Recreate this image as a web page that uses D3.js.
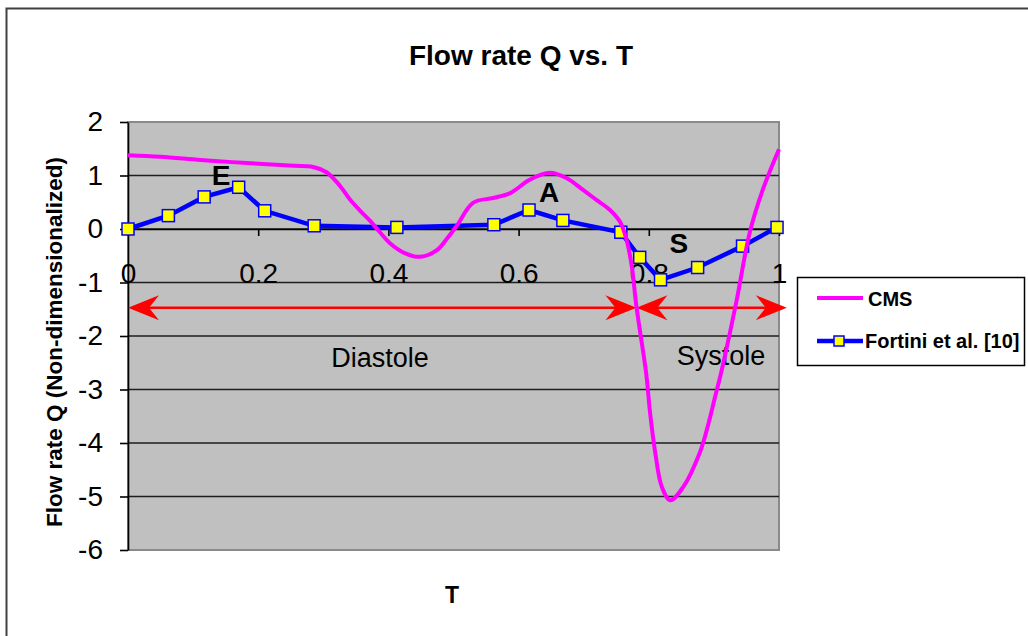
<!DOCTYPE html>
<html>
<head>
<meta charset="utf-8">
<title>Flow rate Q vs. T</title>
<script src="https://cdn.jsdelivr.net/npm/d3@7/dist/d3.min.js"></script>
<style>
    body { margin: 0; background: #fff; }
    svg text { font-family: "Liberation Sans", Arial, sans-serif; fill: #000; }
</style>
</head>
<body>
<script>
//CMS curve
var cmsT = [0, 0.05, 0.111, 0.16, 0.214, 0.255, 0.284, 0.305, 0.326, 0.341, 0.356, 0.372, 0.387, 0.402, 0.425, 0.449, 0.475, 0.49, 0.505, 0.53, 0.561, 0.587, 0.617, 0.648, 0.674, 0.699, 0.72, 0.74, 0.756, 0.766, 0.774, 0.781, 0.796, 0.802, 0.81, 0.82, 0.833, 0.853, 0.878, 0.889, 0.902, 0.912, 0.935, 0.955, 0.975, 1.0];
var cmsQ = [1.38, 1.35, 1.29, 1.25, 1.21, 1.18, 1.16, 1.06, 0.80, 0.55, 0.35, 0.15, -0.06, -0.26, -0.45, -0.52, -0.39, -0.18, 0.06, 0.49, 0.58, 0.67, 0.92, 1.05, 0.95, 0.73, 0.54, 0.36, 0.13, -0.21, -0.71, -1.45, -2.7, -3.44, -4.19, -4.82, -5.07, -4.82, -4.19, -3.76, -3.13, -2.64, -1.33, -0.07, 0.73, 1.49];

//Fortini et al. [10] points
var fortiniT = [0, 0.062, 0.117, 0.170, 0.210, 0.286, 0.413, 0.562, 0.616, 0.668, 0.757, 0.786, 0.818, 0.875, 0.944, 0.997];
var fortiniQ = [0, 0.25, 0.60, 0.78, 0.34, 0.06, 0.03, 0.08, 0.355, 0.16, -0.06, -0.53, -0.95, -0.72, -0.32, 0.03];

var seriesNames = ["CMS", "Fortini et al. [10]"];
var xTicks = [0, 0.2, 0.4, 0.6, 0.8, 1];
var yTicks = [-6, -5, -4, -3, -2, -1, 0, 1, 2];

//peak labels
var peakLabels = ["E", "A", "S"];
var peakT = [0.143, 0.647, 0.846];
var peakQ = [0.82, 0.51, -0.44];

//diastole / systole phases
var phaseLabels = ["Diastole", "Systole"];
var phaseStart = [0, 0.781];
var phaseEnd = [0.781, 1.012];
var phaseArrowQ = -1.47;
var phaseLabelT = [0.387, 0.911];
var phaseLabelQ = [-2.58, -2.54];

window.onload = drawChart();

function drawChart(){

    var width = 1028,
        height = 636;

    var svg = d3.select("body")
        .append("svg")
        .attr("width", width)
        .attr("height", height);

    //outer chart frame (runs off the right and bottom of the picture)
    svg.append("rect")
        .attr("x", 6.5)
        .attr("y", 8.5)
        .attr("width", 1100)
        .attr("height", 700)
        .attr("fill", "none")
        .attr("stroke", "#404040")
        .attr("stroke-width", 2);

    var x = d3.scaleLinear().domain([0, 1]).range([128, 779]);
    var y = d3.scaleLinear().domain([-6, 2]).range([550, 122]);

    //plain hyphen for negatives, like the original
    var numFormat = function(d){ return String(d); };

    //title
    svg.append("text")
        .attr("x", 521)
        .attr("y", 65)
        .attr("text-anchor", "middle")
        .style("font-size", "28px")
        .style("font-weight", "bold")
        .text("Flow rate Q vs. T");

    //plot area
    svg.append("rect")
        .attr("x", x(0))
        .attr("y", y(2))
        .attr("width", x(1) - x(0))
        .attr("height", y(-6) - y(2))
        .attr("fill", "#c0c0c0")
        .attr("stroke", "#8a8a8a")
        .attr("stroke-width", 2);

    //gridlines
    svg.selectAll(".grid")
        .data(yTicks.filter(function(d){ return d > -6 && d < 2; }))
        .enter()
        .append("line")
        .attr("class", "grid")
        .attr("x1", x(0))
        .attr("x2", x(1))
        .attr("y1", function(d){ return y(d); })
        .attr("y2", function(d){ return y(d); })
        .attr("stroke", "#1e1e1e")
        .attr("stroke-width", 1.6);

    //y axis
    var yAxis = svg.append("g")
        .attr("transform", "translate(" + x(0) + ",0)")
        .call(d3.axisLeft(y).tickValues(yTicks).tickSize(8).tickSizeOuter(0).tickPadding(17)
            .tickFormat(numFormat));
    yAxis.selectAll("text").style("font-size", "28px");
    yAxis.selectAll("line, path").attr("stroke", "#000").attr("stroke-width", 1.6);

    //x axis sits on Q = 0
    var xAxis = svg.append("g")
        .attr("transform", "translate(0," + y(0) + ")")
        .call(d3.axisBottom(x).tickValues(xTicks).tickSize(7).tickSizeOuter(0).tickPadding(27)
            .tickFormat(numFormat));
    xAxis.selectAll("text").style("font-size", "28px");
    xAxis.selectAll("line, path").attr("stroke", "#000").attr("stroke-width", 1.6);

    //axis titles
    svg.append("text")
        .attr("transform", "translate(62,342) rotate(-90)")
        .attr("text-anchor", "middle")
        .style("font-size", "22.5px")
        .style("font-weight", "bold")
        .text("Flow rate Q (Non-dimensionalized)");

    svg.append("text")
        .attr("x", 452)
        .attr("y", 603)
        .attr("text-anchor", "middle")
        .style("font-size", "23px")
        .style("font-weight", "bold")
        .text("T");

    //red double arrows for the two phases
    function arrowHead(tipX, yPos, dir){
        //dir = -1 points left, 1 points right
        var len = 31, half = 12.5, notch = 21;
        return "M" + tipX + "," + yPos +
            "L" + (tipX - dir * len) + "," + (yPos - half) +
            "L" + (tipX - dir * notch) + "," + yPos +
            "L" + (tipX - dir * len) + "," + (yPos + half) + "Z";
    }

    var arrows = svg.append("g").attr("class", "arrows");
    phaseStart.forEach(function(t0, i){
        var x0 = x(t0), x1 = x(phaseEnd[i]), yy = y(phaseArrowQ);
        arrows.append("line")
            .attr("x1", x0 + 15)
            .attr("x2", x1 - 15)
            .attr("y1", yy)
            .attr("y2", yy)
            .attr("stroke", "#ff0000")
            .attr("stroke-width", 2.5);
        arrows.append("path").attr("d", arrowHead(x0, yy, -1)).attr("fill", "#ff0000");
        arrows.append("path").attr("d", arrowHead(x1, yy, 1)).attr("fill", "#ff0000");
    });

    svg.selectAll(".phase")
        .data(phaseLabels)
        .enter()
        .append("text")
        .attr("class", "phase")
        .attr("x", function(d, i){ return x(phaseLabelT[i]); })
        .attr("y", function(d, i){ return y(phaseLabelQ[i]); })
        .attr("text-anchor", "middle")
        .style("font-size", "27px")
        .text(function(d){ return d; });

    var line = d3.line()
        .x(function(d){ return x(d.t); })
        .y(function(d){ return y(d.q); });

    var fortini = fortiniT.map(function(t, i){ return {t: t, q: fortiniQ[i]}; });
    var cms = cmsT.map(function(t, i){ return {t: t, q: cmsQ[i]}; });

    //Fortini series with square markers
    svg.append("path")
        .datum(fortini)
        .attr("d", line)
        .attr("fill", "none")
        .attr("stroke", "#0000ff")
        .attr("stroke-width", 4.5);

    svg.selectAll(".marker")
        .data(fortini)
        .enter()
        .append("rect")
        .attr("class", "marker")
        .attr("x", function(d){ return x(d.t) - 6; })
        .attr("y", function(d){ return y(d.q) - 6; })
        .attr("width", 12)
        .attr("height", 12)
        .attr("fill", "#ffff00")
        .attr("stroke", "#0000ff")
        .attr("stroke-width", 1.5);

    //CMS curve on top
    svg.append("path")
        .datum(cms)
        .attr("d", line.curve(d3.curveCatmullRom.alpha(0.5)))
        .attr("fill", "none")
        .attr("stroke", "#ff00ff")
        .attr("stroke-width", 4);

    //peak labels E, A, S
    svg.selectAll(".peak")
        .data(peakLabels)
        .enter()
        .append("text")
        .attr("class", "peak")
        .attr("x", function(d, i){ return x(peakT[i]); })
        .attr("y", function(d, i){ return y(peakQ[i]); })
        .attr("text-anchor", "middle")
        .style("font-size", "28px")
        .style("font-weight", "bold")
        .text(function(d){ return d; });

    //legend
    var legend = svg.append("g").attr("class", "legend");
    legend.append("rect")
        .attr("x", 797.5)
        .attr("y", 277.5)
        .attr("width", 227)
        .attr("height", 88)
        .attr("fill", "#fff")
        .attr("stroke", "#000")
        .attr("stroke-width", 1.5);

    legend.append("line")
        .attr("x1", 817).attr("x2", 863)
        .attr("y1", 298).attr("y2", 298)
        .attr("stroke", "#ff00ff")
        .attr("stroke-width", 4);
    legend.append("line")
        .attr("x1", 817).attr("x2", 863)
        .attr("y1", 341).attr("y2", 341)
        .attr("stroke", "#0000ff")
        .attr("stroke-width", 4.5);
    legend.append("rect")
        .attr("x", 834).attr("y", 336)
        .attr("width", 10).attr("height", 10)
        .attr("fill", "#ffff00")
        .attr("stroke", "#0000ff")
        .attr("stroke-width", 1.5);

    legend.selectAll(".legendText")
        .data(seriesNames)
        .enter()
        .append("text")
        .attr("class", "legendText")
        .attr("x", function(d, i){ return i === 0 ? 868 : 865; })
        .attr("y", function(d, i){ return i === 0 ? 306 : 348; })
        .style("font-size", "20px")
        .style("font-weight", "bold")
        .text(function(d){ return d; });
}
</script>
</body>
</html>
